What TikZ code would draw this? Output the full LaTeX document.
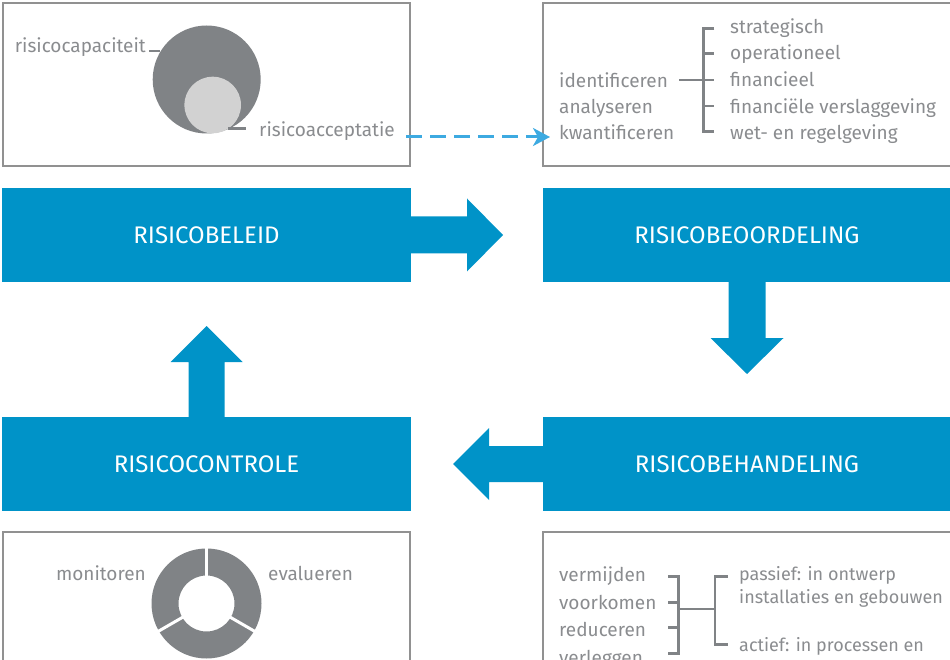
\documentclass[tikz,border=0pt]{standalone}
\usepackage{fontspec}
\setmainfont{Fira Sans}
\usetikzlibrary{calc,arrows.meta}
\definecolor{rblue}{RGB}{0,147,200}
\definecolor{dblue}{RGB}{61,170,225}
\definecolor{dgray}{RGB}{128,131,134}
\definecolor{lgray}{RGB}{210,210,210}
\definecolor{tgray}{RGB}{138,140,143}
\definecolor{bgray}{RGB}{145,145,145}
\tikzset{
  bluebox/.style={fill=rblue, text=white, inner sep=0pt, outer sep=0pt,
    font=\fontsize{24}{28}\selectfont},
  infobox/.style={draw=bgray, line width=1.5pt, inner sep=0pt, outer sep=0pt},
  gtext/.style={text=tgray, inner sep=0pt, font=\fontsize{19}{23}\selectfont},
  stext/.style={gtext, font=\fontsize{18}{22}\selectfont},
  brk/.style={draw=dgray, line width=2.5pt},
  fat/.style={fill=rblue},
  dasharrow/.style={draw=dblue, line width=3pt, dash pattern=on 16pt off 8pt,
    -{Stealth[length=17pt,width=18pt,inset=5pt]}}
}
\begin{document}
\begin{tikzpicture}[x=1pt,y=-1pt]
\useasboundingbox (0,0) rectangle (950,660);
\clip (0,0) rectangle (950,660);
% info boxes
\node[infobox, minimum width=407pt, minimum height=163pt] (tlbox) at (206.5,84.5) {};
\node[infobox, minimum width=408pt, minimum height=163pt] (trbox) at (747,84.5) {};
\node[infobox, minimum width=407pt, minimum height=170pt] (blbox) at (206.5,617) {};
\node[infobox, minimum width=408pt, minimum height=170pt] (brbox) at (747,617) {};
% blue boxes
\node[bluebox, minimum width=409pt, minimum height=94pt] (beleid) at (206.5,235) {RISICOBELEID};
\node[bluebox, minimum width=408pt, minimum height=94pt] (beoordeling) at (747,235) {RISICOBEOORDELING};
\node[bluebox, minimum width=408pt, minimum height=94pt] (behandeling) at (747,464) {RISICOBEHANDELING};
\node[bluebox, minimum width=409pt, minimum height=94pt] (controle) at (206.5,464) {RISICOCONTROLE};
% fat arrows
\fill[fat] ($(beleid.east)+(-1,-18.5)$) -- ++(57,0) -- ++(0,-18) -- ++(36,36.5) -- ++(-36,36.5) -- ++(0,-18) -- ++(-57,0) -- cycle;
\fill[fat] ($(beoordeling.south)+(-18.5,-1)$) -- ++(0,57) -- ++(-18,0) -- ++(36.5,36) -- ++(36.5,-36) -- ++(-18,0) -- ++(0,-57) -- cycle;
\fill[fat] ($(behandeling.west)+(1,-18)$) -- ++(-55,0) -- ++(0,-18) -- ++(-36,36) -- ++(36,36) -- ++(0,-18) -- ++(55,0) -- cycle;
\fill[fat] ($(controle.north)+(-18,1)$) -- ++(0,-56) -- ++(-18,0) -- ++(36,-36) -- ++(36,36) -- ++(-18,0) -- ++(0,56) -- cycle;
% dashed arrow
\draw[dasharrow] ([xshift=-4pt,yshift=-52.5pt]tlbox.east) -- ([xshift=7pt,yshift=-52.5pt]trbox.west);
% top-left content
\fill[dgray] (206.7,79.5) circle[radius=54pt];
\fill[lgray] (212.7,105) circle[radius=28.3pt];
\node[gtext, anchor=base east] (cap) at (146,53) {risicocapaciteit};
\node[gtext, anchor=base west] (acc) at (259,136.5) {risicoacceptatie};
\draw[brk] (149,51) -- (160,51);
\draw[brk] (228,128.7) -- (246,128.7);
% top-right content
\node[gtext, anchor=base west] (ident) at (559,87.3) {identificeren};
\node[gtext, anchor=base west] (analy) at (559,113.3) {analyseren};
\node[gtext, anchor=base west] (kwant) at (559,139.3) {kwantificeren};
\node[gtext, anchor=base west] (strat) at (730,33.3) {strategisch};
\node[gtext, anchor=base west] (oper) at (730,60) {operationeel};
\node[gtext, anchor=base west] (fin) at (730,86.6) {financieel};
\node[gtext, anchor=base west] (finv) at (730,113.3) {financiële verslaggeving};
\node[gtext, anchor=base west] (wet) at (730,139.3) {wet- en regelgeving};
\draw[brk] (679,80) -- (703.3,80);
\draw[brk] (714.3,28.3) -- (703.3,28.3) -- (703.3,131.7) -- (714.3,131.7);
\draw[brk] (703.3,53.5) -- (714.3,53.5);
\draw[brk] (703.3,80) -- (714.3,80);
\draw[brk] (703.3,106) -- (714.3,106);
% bottom-left content
\fill[dgray, even odd rule] (206.5,603.5) circle[radius=55pt] (206.5,603.5) circle[radius=28pt];
\coordinate (dc) at (206.5,603.5);
\draw[white, line width=3pt] (dc) -- +(90:60pt);
\draw[white, line width=3pt] (dc) -- +(210:60pt);
\draw[white, line width=3pt] (dc) -- +(330:60pt);
\node[gtext, anchor=base east] (mon) at (146,580) {monitoren};
\node[gtext, anchor=base west] (eval) at (268,580) {evalueren};
% bottom-right content
\node[gtext, anchor=base west] (verm) at (559,581.7) {vermijden};
\node[gtext, anchor=base west] (voor) at (559,609) {voorkomen};
\node[gtext, anchor=base west] (redu) at (559,636.5) {reduceren};
\node[gtext, anchor=base west] (verl) at (559,664) {verleggen};
\draw[brk] (668,576.7) -- (678.3,576.7) -- (678.3,653.3) -- (668,653.3);
\draw[brk] (668,602.7) -- (678.3,602.7);
\draw[brk] (668,627.7) -- (678.3,627.7);
\draw[brk] (678.3,609) -- (715,609);
\draw[brk] (727.7,576.7) -- (715,576.7) -- (715,644.3) -- (727.7,644.3);
\node[stext, anchor=base west] (pas1) at (739,580) {passief: in ontwerp};
\node[stext, anchor=base west] (pas2) at (739,603) {installaties en gebouwen};
\node[stext, anchor=base west] (act) at (739,651.5) {actief: in processen en};
\end{tikzpicture}
\end{document}
